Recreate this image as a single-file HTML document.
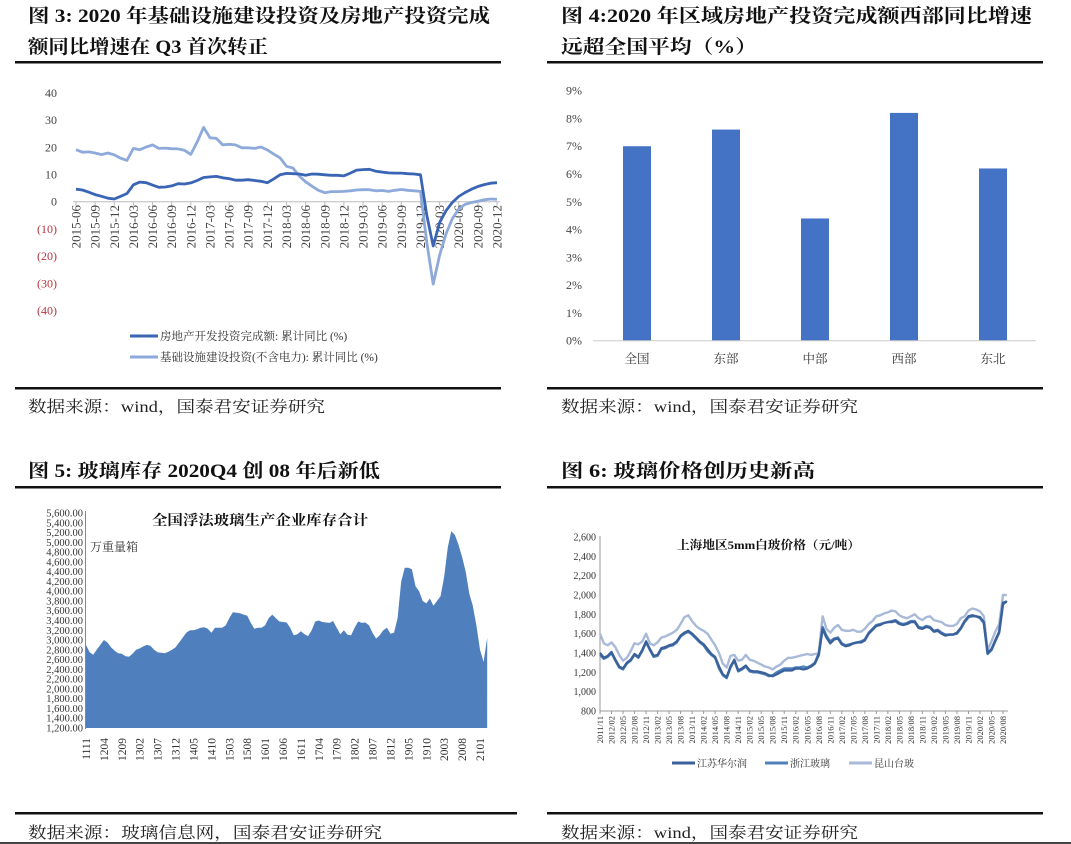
<!DOCTYPE html>
<html><head><meta charset="utf-8"><style>
html,body{margin:0;padding:0;background:#fff;}
svg{display:block;}
.ser{font-family:"Liberation Serif","Noto Serif CJK SC",serif;}
</style></head><body>
<svg id="root" width="1071" height="844" viewBox="0 0 1071 844" xmlns="http://www.w3.org/2000/svg" class="ser">
<rect x="0" y="0" width="1071" height="844" fill="#fff"/>
<g font-weight="bold" font-size="19" fill="#111">
<text x="28" y="22" textLength="462" lengthAdjust="spacingAndGlyphs">图 3: 2020 年基础设施建设投资及房地产投资完成</text>
<text x="28" y="53" textLength="240" lengthAdjust="spacingAndGlyphs">额同比增速在 Q3 首次转正</text>
</g>
<g font-weight="bold" font-size="19" fill="#111">
<text x="561" y="22" textLength="471" lengthAdjust="spacingAndGlyphs">图 4:2020 年区域房地产投资完成额西部同比增速</text>
<text x="561" y="53" textLength="196" lengthAdjust="spacingAndGlyphs">远超全国平均（%）</text>
</g>
<g font-weight="bold" font-size="19" fill="#111">
<text x="28" y="477" textLength="352" lengthAdjust="spacingAndGlyphs">图 5: 玻璃库存 2020Q4 创 08 年后新低</text>
</g>
<g font-weight="bold" font-size="19" fill="#111">
<text x="561" y="477" textLength="254" lengthAdjust="spacingAndGlyphs">图 6: 玻璃价格创历史新高</text>
</g>
<g fill="#111">
<rect x="15" y="61" width="486" height="2.5"/><rect x="547" y="61" width="496" height="2.5"/>
<rect x="15" y="387" width="486" height="2.5"/><rect x="547" y="387" width="496" height="2.5"/>
<rect x="15" y="486" width="486" height="2.5"/><rect x="547" y="486" width="496" height="2.5"/>
<rect x="15" y="812" width="502" height="2.5"/><rect x="547" y="812" width="496" height="2.5"/>
<rect x="0" y="842" width="1071" height="2" fill="#444"/>
</g>
<g font-size="16" fill="#222">
<text x="28" y="412" textLength="297" lengthAdjust="spacingAndGlyphs">数据来源：wind，国泰君安证券研究</text>
<text x="561" y="412" textLength="297" lengthAdjust="spacingAndGlyphs">数据来源：wind，国泰君安证券研究</text>
<text x="28" y="838" textLength="354" lengthAdjust="spacingAndGlyphs">数据来源：玻璃信息网，国泰君安证券研究</text>
<text x="561" y="838" textLength="297" lengthAdjust="spacingAndGlyphs">数据来源：wind，国泰君安证券研究</text>
</g>
<g id="c3"></g>
<g id="c4"></g>
<g id="c5"></g>
<g id="c6"></g>
</svg>
<script>
const c3Ticks=["2015-06","2015-09","2015-12","2016-03","2016-06","2016-09","2016-12","2017-03","2017-06","2017-09","2017-12","2018-03","2018-06","2018-09","2018-12","2019-03","2019-06","2019-09","2019-12","2020-03","2020-06","2020-09","2020-12"];
const c3YTicks=[40,30,20,10,0,-10,-20,-30,-40];
const c3YLabels=["40","30","20","10","0","(10)","(20)","(30)","(40)"];
const c3RealEstate=[4.6,4.3,3.5,2.6,2.0,1.3,1.0,2.0,3.0,6.2,7.2,7.0,6.1,5.3,5.4,5.8,6.6,6.5,6.9,7.8,8.9,9.1,9.3,8.8,8.5,7.9,7.9,8.1,7.8,7.5,7.0,8.4,9.9,10.4,10.3,10.2,9.7,10.2,10.1,9.9,9.7,9.7,9.5,10.5,11.6,11.8,11.9,11.2,10.9,10.6,10.5,10.5,10.3,10.2,9.9,-5,-16.3,-7.7,-3.3,-0.3,1.9,3.4,4.6,5.6,6.3,6.8,7.0];
const c3Infra=[19.1,18.2,18.3,17.9,17.3,17.9,17.2,16,15.2,19.6,19.1,20.1,20.9,19.6,19.7,19.5,19.4,18.9,17.4,22,27.3,23.5,23.3,20.9,21.1,20.9,19.8,19.8,19.6,20.1,19.0,17.5,16.1,13.0,12.4,9.4,7.3,5.7,4.2,3.3,3.7,3.7,3.8,4.0,4.3,4.4,4.4,4.0,4.1,3.8,4.2,4.5,4.2,4.0,3.8,-15,-30.3,-19.7,-11.8,-6.3,-2.7,-1.0,-0.3,0.2,0.7,1.0,0.9];
const c4Cats=["全国","东部","中部","西部","东北"];
const c4Vals=[7.0,7.6,4.4,8.2,6.2];
const c4YTicks=[0,1,2,3,4,5,6,7,8,9];
const c5Ticks=["1111","1204","1209","1302","1307","1312","1405","1410","1503","1508","1601","1606","1611","1704","1709","1802","1807","1812","1905","1910","2003","2008","2101"];
const c5YTicks=[1200,1400,1600,1800,2000,2200,2400,2600,2800,3000,3200,3400,3600,3800,4000,4200,4400,4600,4800,5000,5200,5400,5600];
const c5Inv=[2900,2750,2700,2800,2900,3000,2950,2850,2780,2730,2720,2670,2660,2720,2800,2830,2870,2900,2880,2800,2750,2740,2730,2760,2800,2850,2950,3050,3150,3200,3200,3220,3250,3260,3230,3150,3250,3250,3250,3300,3450,3570,3560,3550,3520,3500,3350,3230,3250,3250,3300,3450,3520,3450,3380,3370,3360,3250,3100,3120,3180,3120,3080,3200,3380,3400,3370,3360,3350,3390,3250,3120,3200,3110,3100,3250,3380,3350,3360,3300,3150,3030,3100,3200,3250,3130,3150,3450,4200,4480,4480,4450,4100,4000,3800,3750,3850,3700,3800,3900,4300,4900,5230,5150,4950,4700,4400,3950,3700,3300,2800,2550,3050];
const c6Ticks=["2011/11","2012/02","2012/05","2012/08","2012/11","2013/02","2013/05","2013/08","2013/11","2014/02","2014/05","2014/08","2014/11","2015/02","2015/05","2015/08","2015/11","2016/02","2016/05","2016/08","2016/11","2017/02","2017/05","2017/08","2017/11","2018/02","2018/05","2018/08","2018/11","2019/02","2019/05","2019/08","2019/11","2020/02","2020/05","2020/08"];
const c6YTicks=[800,1000,1200,1400,1600,1800,2000,2200,2400,2600];
const c6Hwr=[1400,1350,1370,1410,1330,1260,1240,1300,1330,1390,1360,1430,1520,1440,1370,1380,1450,1460,1480,1490,1520,1580,1610,1630,1600,1560,1520,1490,1440,1390,1360,1260,1180,1150,1260,1330,1220,1240,1270,1220,1210,1210,1200,1190,1170,1160,1180,1200,1220,1220,1220,1240,1240,1230,1240,1260,1290,1380,1650,1560,1500,1540,1550,1490,1470,1480,1500,1510,1510,1530,1600,1640,1680,1690,1710,1720,1720,1730,1700,1690,1700,1720,1720,1660,1650,1670,1660,1620,1630,1600,1580,1590,1590,1610,1660,1730,1780,1790,1780,1770,1720,1400,1440,1530,1620,1920,1930];
const c6Zj=[1380,1340,1360,1400,1320,1250,1230,1290,1320,1380,1350,1420,1510,1430,1360,1370,1440,1450,1470,1480,1510,1570,1600,1620,1590,1550,1510,1480,1420,1380,1350,1240,1170,1140,1250,1320,1210,1230,1260,1210,1200,1200,1190,1180,1160,1170,1200,1220,1240,1240,1240,1250,1250,1260,1250,1270,1300,1400,1670,1580,1520,1550,1560,1500,1480,1490,1500,1510,1520,1540,1610,1650,1690,1700,1710,1720,1730,1740,1710,1700,1710,1730,1730,1670,1660,1680,1670,1630,1640,1610,1590,1590,1590,1600,1650,1720,1770,1780,1780,1760,1710,1390,1430,1520,1610,1900,1940];
const c6Ks=[1600,1500,1480,1510,1460,1380,1320,1350,1420,1500,1490,1520,1600,1500,1480,1510,1560,1570,1590,1610,1640,1700,1770,1790,1730,1680,1650,1630,1600,1540,1480,1400,1290,1250,1370,1380,1320,1330,1380,1330,1320,1300,1280,1260,1250,1230,1260,1280,1320,1350,1350,1360,1370,1380,1390,1380,1390,1400,1780,1650,1610,1660,1690,1640,1630,1630,1640,1620,1620,1650,1700,1730,1780,1790,1810,1820,1840,1830,1790,1770,1760,1780,1800,1760,1740,1770,1780,1740,1730,1720,1690,1680,1680,1700,1760,1780,1840,1860,1850,1830,1780,1430,1520,1620,1700,2000,2000];

const NS="http://www.w3.org/2000/svg";
function mk(tag,attrs,parent,txt){const e=document.createElementNS(NS,tag);for(const k in attrs)e.setAttribute(k,attrs[k]);if(txt!==undefined)e.textContent=txt;parent.appendChild(e);return e;}
function pathFrom(arr,xf,yf){return arr.map((v,i)=>(i?"L":"M")+xf(i).toFixed(1)+","+yf(v).toFixed(1)).join("");}

(function(){
const g=document.getElementById('c3');
const x3=i=>76+i*(497-76)/66, y3=v=>201.7-v*2.72;
c3YTicks.forEach((v,k)=>{const t=mk('text',{x:57,y:y3(v)+4,'text-anchor':'end','font-size':12,fill:v<0?'#b8343f':'#444'},g,c3YLabels[k]);
});
const ax=mk('line',{x1:73,y1:y3(0),x2:500,y2:y3(0),stroke:'#bbb','stroke-width':1},g);

c3Ticks.forEach((s,k)=>{const xx=x3(k*3);
mk('line',{x1:xx,y1:y3(0),x2:xx,y2:y3(0)+4,stroke:'#bbb'},g);
const t=mk('text',{x:0,y:0,transform:`translate(${xx+4.5},205) rotate(-90)`,'text-anchor':'end','font-size':13,fill:'#444'},g,s);
});
const p2=mk('path',{d:pathFrom(c3Infra,x3,y3),fill:'none',stroke:'#8eaadb','stroke-width':2.8,'stroke-linejoin':'round'},g);

const p1=mk('path',{d:pathFrom(c3RealEstate,x3,y3),fill:'none',stroke:'#3a64b4','stroke-width':2.8,'stroke-linejoin':'round'},g);

const l1=mk('g',{},g);
mk('line',{x1:130,y1:336,x2:158,y2:336,stroke:'#3a64b4','stroke-width':3},l1);
mk('text',{x:160,y:340,'font-size':11.5,fill:'#333'},l1,'房地产开发投资完成额: 累计同比 (%)');
const l2=mk('g',{},g);
mk('line',{x1:130,y1:357,x2:158,y2:357,stroke:'#8eaadb','stroke-width':3},l2);
mk('text',{x:160,y:361,'font-size':11.5,fill:'#333'},l2,'基础设施建设投资(不含电力): 累计同比 (%)');
})();

(function(){
const g=document.getElementById('c4');
const y4=v=>340.7-v*27.78, bw=28, band=89, xc=i=>637+i*band;
c4YTicks.forEach(v=>{const t=mk('text',{x:582,y:y4(v)+4,'text-anchor':'end','font-size':12,fill:'#444'},g,v+'%');
});
c4Vals.forEach((v,i)=>{const r=mk('rect',{x:xc(i)-bw/2,y:y4(v),width:bw,height:y4(0)-y4(v),fill:'#4472c4'},g);

const t=mk('text',{x:xc(i),y:363,'text-anchor':'middle','font-size':12.5,fill:'#333'},g,c4Cats[i]);
});
const ax=mk('line',{x1:593,y1:y4(0),x2:1036,y2:y4(0),stroke:'#ccc','stroke-width':1},g);

})();

(function(){
const g=document.getElementById('c5');
const x5=i=>86+i*(480-86)/110, y5=v=>728-(v-1200)*215/4400;
c5YTicks.forEach(v=>{const t=mk('text',{x:83,y:y5(v)+3.5,'text-anchor':'end','font-size':10.5,fill:'#333'},g,v.toLocaleString('en-US',{minimumFractionDigits:2}));
});
const d="M"+x5(0)+","+y5(1200)+pathFrom(c5Inv,x5,y5).replace(/^M/,"L")+"L"+x5(c5Inv.length-1)+","+y5(1200)+"Z";
const a=mk('path',{d:d,fill:'#4f7fbd'},g);
const ax=mk('line',{x1:85.5,y1:511,x2:85.5,y2:729,stroke:'#888'},g);
c5Ticks.forEach((s,k)=>{const xx=x5(k*5);
const t=mk('text',{x:0,y:0,transform:`translate(${xx+4},738) rotate(-90)`,'text-anchor':'end','font-size':11.5,fill:'#333'},g,s);
});
const tt=mk('text',{x:152,y:525,'font-size':14,'font-weight':'bold',fill:'#111',textLength:216,lengthAdjust:'spacingAndGlyphs'},g,'全国浮法玻璃生产企业库存合计');

const u=mk('text',{x:90,y:551,'font-size':12,fill:'#333'},g,'万重量箱');

})();

(function(){
const g=document.getElementById('c6');
const x6=i=>600+i*(1003-600)/105, y6=v=>711-(v-800)*174/1800;
c6YTicks.forEach(v=>{const t=mk('text',{x:596,y:y6(v)+3.5,'text-anchor':'end','font-size':10,fill:'#333'},g,v.toLocaleString('en-US'));
});
const ay=mk('line',{x1:600,y1:536,x2:600,y2:711,stroke:'#999'},g);
const ax=mk('line',{x1:600,y1:711,x2:1008,y2:711,stroke:'#999'},g);
c6Ticks.forEach((s,k)=>{const xx=x6(k*3);
mk('line',{x1:xx,y1:711,x2:xx,y2:714,stroke:'#999'},g);
const t=mk('text',{x:0,y:0,transform:`translate(${xx+3},716) rotate(-90)`,'text-anchor':'end','font-size':8.5,fill:'#333'},g,s);
});
const series=[[c6Ks,'#a9b9d8','kunshan-line'],[c6Zj,'#4f81bd','zhejiang-line'],[c6Hwr,'#3a6199','huaerrun-line']];
series.forEach(([arr,col,nm])=>{const p=mk('path',{d:pathFrom(arr,x6,y6),fill:'none',stroke:col,'stroke-width':2.4,'stroke-linejoin':'round'},g);
});
const tt=mk('text',{x:677,y:549,'font-size':12,'font-weight':'bold',fill:'#111',textLength:183,lengthAdjust:'spacingAndGlyphs'},g,'上海地区5mm白玻价格（元/吨）');

const leg=[[672,'#3a6199','江苏华尔润'],[765,'#4f81bd','浙江玻璃'],[849,'#a9b9d8','昆山台玻']];
leg.forEach(([lx,col,lab])=>{const e=mk('g',{},g);
mk('line',{x1:lx,y1:763,x2:lx+23,y2:763,stroke:col,'stroke-width':3},e);
mk('text',{x:lx+25,y:767,'font-size':10,fill:'#333'},e,lab);});
})();
</script>
</body></html>
